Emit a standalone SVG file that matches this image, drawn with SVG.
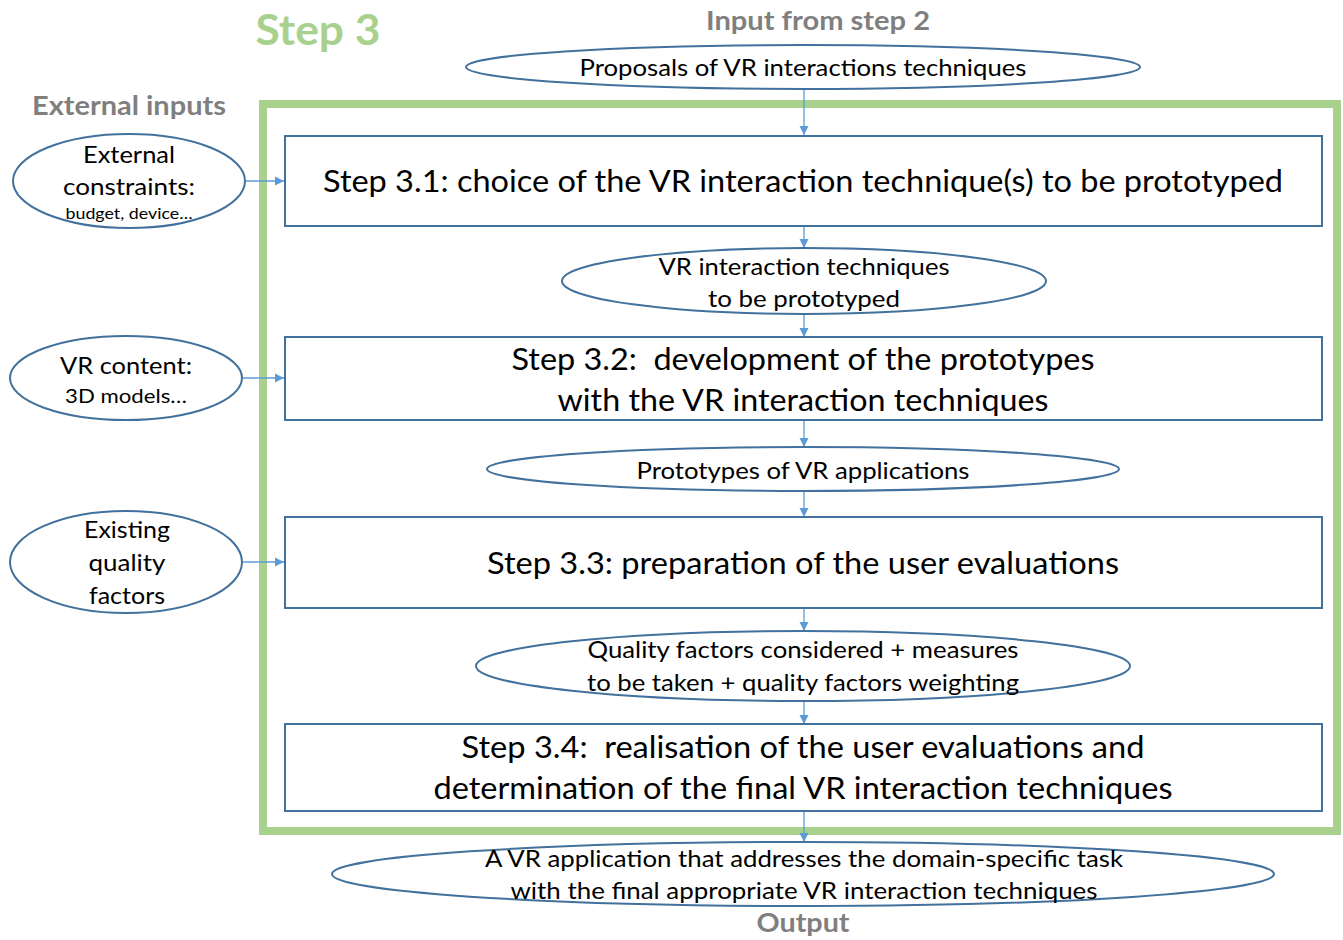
<svg xmlns="http://www.w3.org/2000/svg" width="1343" height="940" viewBox="0 0 1343 940">
<style>
.bx{fill:#fff;stroke:#41719C;stroke-width:2}
.el{fill:#fff;stroke:#41719C;stroke-width:2}
.t{font-family:Lato,"Liberation Sans",sans-serif;fill:#000;text-anchor:middle}
.h{font-family:Lato,"Liberation Sans",sans-serif;font-weight:bold;fill:#7F7F7F;text-anchor:middle}
.c{stroke:#5B9BD5;stroke-width:1.3;fill:none;marker-end:url(#ar)}
</style>
<defs>
<marker id="ar" markerUnits="userSpaceOnUse" markerWidth="10" markerHeight="10" refX="9" refY="5" orient="auto">
<path d="M0,0.5 L9,5 L0,9.5 Z" fill="#5B9BD5"/>
</marker>
</defs>
<rect x="0" y="0" width="1343" height="940" fill="#fff"/>
<g id="frame">
<rect x="263" y="104" width="1074" height="727" fill="none" stroke="#A9D18E" stroke-width="8"/>
</g>
<g id="titles">
<text x="318" y="45" font-family="Lato,'Liberation Sans',sans-serif" font-weight="bold" font-size="42" fill="#A9D18E" text-anchor="middle" textLength="125" lengthAdjust="spacingAndGlyphs">Step 3</text>
<text class="h" x="818" y="30" font-size="26" textLength="224" lengthAdjust="spacingAndGlyphs">Input from step 2</text>
<text class="h" x="129" y="115" font-size="26" textLength="194" lengthAdjust="spacingAndGlyphs">External inputs</text>
<text class="h" x="803" y="932" font-size="26" textLength="93" lengthAdjust="spacingAndGlyphs">Output</text>
</g>
<g id="connectors">
<line class="c" x1="804" y1="89" x2="804" y2="135"/>
<line class="c" x1="804" y1="226" x2="804" y2="248"/>
<line class="c" x1="804" y1="314" x2="804" y2="337"/>
<line class="c" x1="804" y1="420" x2="804" y2="447"/>
<line class="c" x1="804" y1="491" x2="804" y2="517"/>
<line class="c" x1="804" y1="608" x2="804" y2="631"/>
<line class="c" x1="804" y1="701" x2="804" y2="724"/>
<line class="c" x1="804" y1="811" x2="804" y2="842"/>
<line class="c" x1="245" y1="181" x2="284" y2="181"/>
<line class="c" x1="242" y1="378" x2="284" y2="378"/>
<line class="c" x1="242" y1="562" x2="284" y2="562"/>
</g>
<g id="input-step2">
<ellipse class="el" cx="803" cy="67" rx="337" ry="22"/>
<text class="t" x="803" y="76" font-size="23" textLength="447" lengthAdjust="spacingAndGlyphs">Proposals of VR interactions techniques</text>
</g>
<g id="ext-constraints">
<ellipse class="el" cx="129" cy="181" rx="116" ry="47"/>
<text class="t" x="129" y="163" font-size="23" textLength="92" lengthAdjust="spacingAndGlyphs">External</text>
<text class="t" x="129" y="195" font-size="23" textLength="132" lengthAdjust="spacingAndGlyphs">constraints:</text>
<text class="t" x="129" y="219" font-size="16" textLength="127" lengthAdjust="spacingAndGlyphs">budget, device…</text>
</g>
<g id="vr-content">
<ellipse class="el" cx="126" cy="378" rx="116" ry="42"/>
<text class="t" x="126" y="374" font-size="23" textLength="132" lengthAdjust="spacingAndGlyphs">VR content:</text>
<text class="t" x="126" y="403" font-size="19" textLength="122" lengthAdjust="spacingAndGlyphs">3D models…</text>
</g>
<g id="existing-quality">
<ellipse class="el" cx="126" cy="562" rx="116" ry="51"/>
<text class="t" x="127" y="538" font-size="23" textLength="86" lengthAdjust="spacingAndGlyphs">Existing</text>
<text class="t" x="127" y="571" font-size="23" textLength="77" lengthAdjust="spacingAndGlyphs">quality</text>
<text class="t" x="127" y="604" font-size="23" textLength="76" lengthAdjust="spacingAndGlyphs">factors</text>
</g>
<g id="step31">
<rect class="bx" x="285" y="136" width="1037" height="90"/>
<text class="t" x="803" y="192" font-size="30" textLength="960" lengthAdjust="spacingAndGlyphs">Step 3.1: choice of the VR interaction technique(s) to be prototyped</text>
</g>
<g id="techniques-prototyped">
<ellipse class="el" cx="804" cy="281" rx="242" ry="33"/>
<text class="t" x="804" y="275" font-size="23" textLength="291" lengthAdjust="spacingAndGlyphs">VR interaction techniques</text>
<text class="t" x="804" y="307" font-size="23" textLength="192" lengthAdjust="spacingAndGlyphs">to be prototyped</text>
</g>
<g id="step32">
<rect class="bx" x="285" y="337" width="1037" height="83"/>
<text class="t" x="803" y="370" font-size="30" textLength="583" lengthAdjust="spacingAndGlyphs" xml:space="preserve">Step 3.2:  development of the prototypes</text>
<text class="t" x="803" y="411" font-size="30" textLength="491" lengthAdjust="spacingAndGlyphs">with the VR interaction techniques</text>
</g>
<g id="prototypes">
<ellipse class="el" cx="803" cy="469" rx="316" ry="22"/>
<text class="t" x="803" y="479" font-size="23" textLength="333" lengthAdjust="spacingAndGlyphs">Prototypes of VR applications</text>
</g>
<g id="step33">
<rect class="bx" x="285" y="517" width="1037" height="91"/>
<text class="t" x="803" y="574" font-size="30" textLength="632" lengthAdjust="spacingAndGlyphs">Step 3.3: preparation of the user evaluations</text>
</g>
<g id="quality-factors">
<ellipse class="el" cx="803" cy="666" rx="327" ry="35"/>
<text class="t" x="803" y="658" font-size="23" textLength="431" lengthAdjust="spacingAndGlyphs">Quality factors considered + measures</text>
<text class="t" x="803" y="691" font-size="23" textLength="432" lengthAdjust="spacingAndGlyphs">to be taken + quality factors weighting</text>
</g>
<g id="step34">
<rect class="bx" x="285" y="724" width="1037" height="87"/>
<text class="t" x="803" y="758" font-size="30" textLength="683" lengthAdjust="spacingAndGlyphs" xml:space="preserve">Step 3.4:  realisation of the user evaluations and</text>
<text class="t" x="803" y="799" font-size="30" textLength="739" lengthAdjust="spacingAndGlyphs">determination of the final VR interaction techniques</text>
</g>
<g id="output">
<ellipse class="el" cx="803" cy="874" rx="471" ry="32"/>
<text class="t" x="804" y="867" font-size="23" textLength="638" lengthAdjust="spacingAndGlyphs">A VR application that addresses the domain-specific task</text>
<text class="t" x="804" y="899" font-size="23" textLength="587" lengthAdjust="spacingAndGlyphs">with the final appropriate VR interaction techniques</text>
</g>
</svg>
